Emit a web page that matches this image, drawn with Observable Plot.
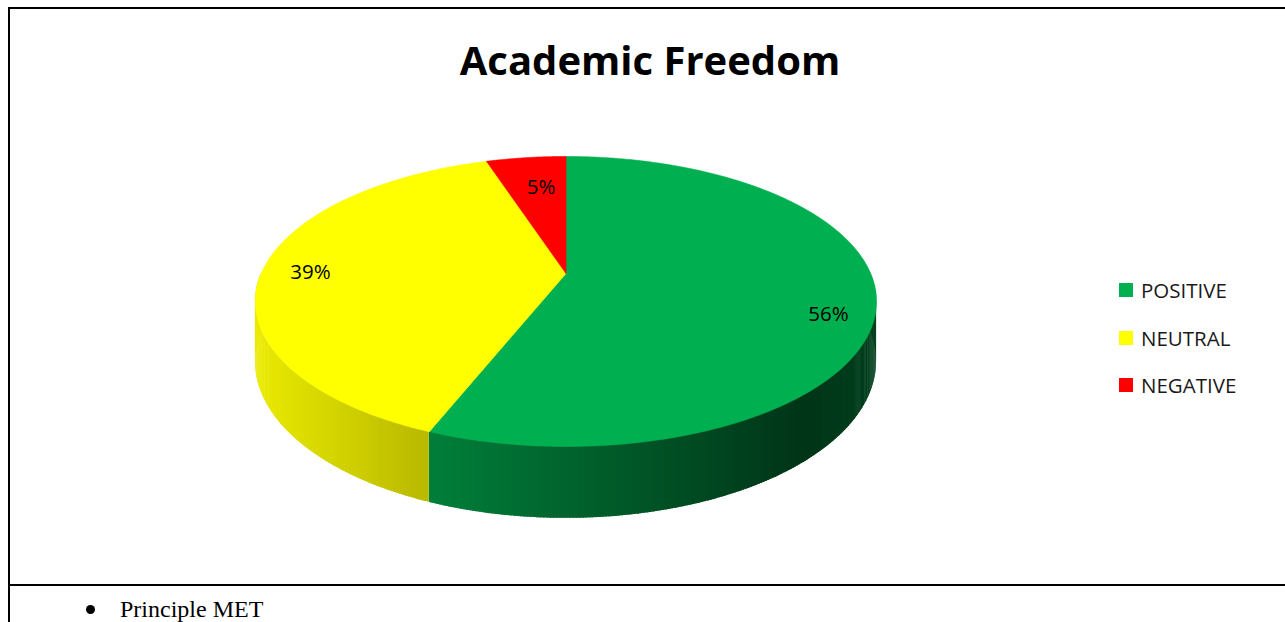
<!DOCTYPE html>
<html><head><meta charset="utf-8">
<script src="https://cdn.jsdelivr.net/npm/d3@7"></script>
<script src="https://cdn.jsdelivr.net/npm/@observablehq/plot@0.6"></script>
<style>
html,body{margin:0;padding:0;background:#fff;}
#page{position:relative;width:1285px;height:622px;overflow:hidden;}
.bl{position:absolute;background:#000;}
#title{position:absolute;left:0;width:1300px;top:35px;text-align:center;font:700 40px "Open Sans",sans-serif;color:#000;line-height:50px;}
#chart{position:absolute;left:0;top:0;}
.leg{position:absolute;left:1119px;height:28px;display:flex;align-items:center;font:20.5px "Open Sans",sans-serif;color:#1a1a1a;}
.sw{width:14px;height:14px;margin-right:8px;}
#bul{position:absolute;left:86px;top:605px;width:9px;height:9px;border-radius:50%;background:#000;}
#note{position:absolute;left:120px;top:598px;font:24px "Liberation Serif",serif;line-height:23px;color:#000;}
</style></head><body>
<div id="page">
  <div id="chart"></div>
  <div id="title">Academic Freedom</div>
  <div id="legend"></div>
  <div class="bl" style="left:8px;top:7px;width:1277px;height:2px"></div>
  <div class="bl" style="left:8px;top:7px;width:2px;height:615px"></div>
  <div class="bl" style="left:8px;top:584px;width:1277px;height:2px"></div>
  <div id="bul"></div>
  <div id="note">Principle MET</div>
</div>
<script>
// ---- data ----
const categories = ["POSITIVE", "NEUTRAL", "NEGATIVE"];
const values = [56, 39, 5];
const colors = ["#00B050", "#FFFF00", "#FF0000"];
const labels = ["56%", "39%", "5%"];

// ---- 3D pie geometry (model units) ----
const P = 0.193;      // perspective factor
const T = 0.4155;     // thickness
function proj(r, a, bottom) {
  const u = r * Math.sin(a), w = r * Math.cos(a), d = 1 + P * w;
  return {x: u / d, y: -w / d + (bottom ? T / d : 0)};
}
function shade(col, X) {
  const f = X < 0.77 ? 0.92 - (X + 1.02) * (0.62 / 1.79) : 0.3 + (X - 0.77) * 0.24;
  const c = d3.rgb(col);
  return d3.rgb(c.r * f, c.g * f, c.b * f).formatHex();
}

const table = categories.map((c, i) => ({cat: c, value: values[i], color: colors[i], label: labels[i]}));
const arcs = d3.pie().sort(null).value(d => d.value)(table);

// side segments (front half only), slightly overlapping to avoid seams
const side = [];
let seg = 0;
const step = Math.PI / 360;
for (const a of arcs) {
  const s = Math.max(a.startAngle, Math.PI / 2), e = Math.min(a.endAngle, 3 * Math.PI / 2);
  if (e <= s) continue;
  const n = Math.max(1, Math.ceil((e - s) / step));
  for (let i = 0; i < n; i++) {
    const a0 = s + (e - s) * i / n;
    const a1 = Math.min(e, s + (e - s) * (i + 1.6) / n);
    const p0 = proj(1, a0), q0 = proj(1, a0, true), p1 = proj(1, a1), q1 = proj(1, a1, true);
    const col = shade(a.data.color, (p0.x + p1.x) / 2);
    side.push({seg, x: p0.x, y1: p0.y, y2: q0.y, fill: col});
    side.push({seg, x: p1.x, y1: p1.y, y2: q1.y, fill: col});
    seg++;
  }
}

// top surfaces
const tops = arcs.map(a => {
  const pts = [proj(0, 0)];
  const n = Math.max(2, Math.ceil((a.endAngle - a.startAngle) / step));
  for (let i = 0; i <= n; i++) pts.push(proj(1, a.startAngle + (a.endAngle - a.startAngle) * i / n));
  pts.push(proj(0, 0));
  return {color: a.data.color, pts};
});

// labels along bisector
const labelOpts = [{dx: 0, dy: 18}, {dx: 2, dy: 3}, {dx: 10, dy: 15}];
const labelMarks = arcs.map((a, i) => {
  const p = proj(0.85, (a.startAngle + a.endAngle) / 2);
  return Plot.text([{x: p.x, y: p.y, t: a.data.label}], {
    x: "x", y: "y", text: "t", fontSize: 20.5, fill: "#000",
    fontFamily: "Open Sans, sans-serif", dx: labelOpts[i].dx, dy: labelOpts[i].dy
  });
});

const cx = 565.5, rx = 304.7, cy = 273, ry = 139.6;
const chart = Plot.plot({
  width: 1285, height: 584, margin: 0,
  x: {domain: [-1, 1], range: [cx - rx, cx + rx], axis: null},
  y: {domain: [-1, 1], range: [cy - ry, cy + ry], axis: null},
  color: {type: "identity"},
  marks: [
    Plot.areaY(side, {x: "x", y1: "y1", y2: "y2", z: "seg", fill: "fill"}),
    ...tops.map(t => Plot.line(t.pts, {x: "x", y: "y", fill: t.color, stroke: t.color, strokeWidth: 0.6})),
    ...labelMarks
  ]
});
document.getElementById("chart").appendChild(chart);

// legend
const leg = document.getElementById("legend");
const rowCenters = [290, 338, 385];
categories.forEach((c, i) => {
  const row = document.createElement("div");
  row.className = "leg";
  row.style.top = (rowCenters[i] - 14) + "px";
  row.innerHTML = `<div class="sw" style="background:${colors[i]}"></div><span>${c}</span>`;
  leg.appendChild(row);
});
</script>
</body></html>
